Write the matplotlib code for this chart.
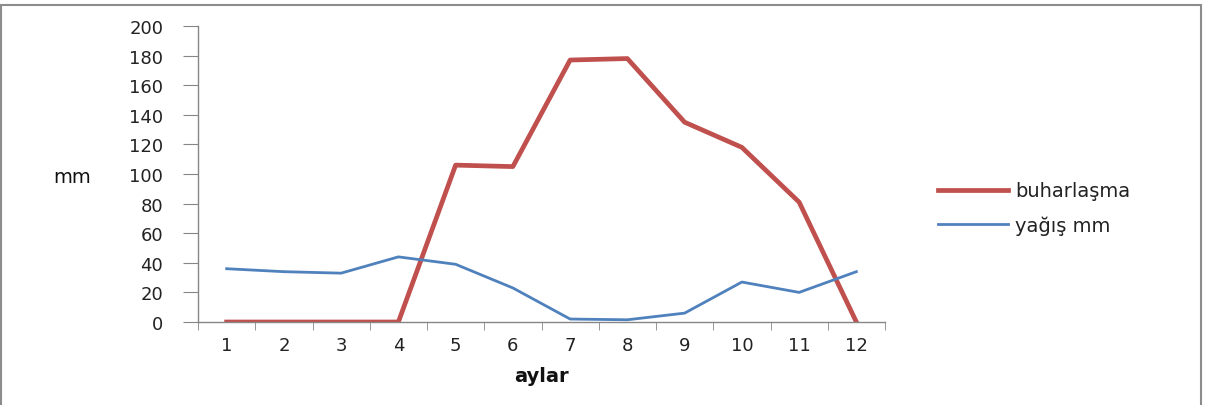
import matplotlib
matplotlib.use("Agg")
import matplotlib.pyplot as plt
from matplotlib.patches import Rectangle
import numpy as np

months = [1, 2, 3, 4, 5, 6, 7, 8, 9, 10, 11, 12]
buharlasma = [0, 0, 0, 0, 106, 105, 177, 178, 135, 118, 81, 0]
yagis = [36, 34, 33, 44, 39, 23, 2, 1.5, 6, 27, 20, 34]
yticks = [0, 20, 40, 60, 80, 100, 120, 140, 160, 180, 200]

RED = "#C0504D"
BLUE = "#4F81BD"
GRAY = "#868686"
FS = 13

fig = plt.figure(figsize=(12.12, 4.06), dpi=100)
fig.patch.set_facecolor("white")
fig.patches.append(Rectangle((1/1212, -0.01), 1200/1212, 1 - 6/406 + 0.01,
                             transform=fig.transFigure, fill=False,
                             edgecolor="#8c8c8c", linewidth=1.5))

ax = fig.add_axes([198/1212, 1 - 323/406, (885-198)/1212, (323-27)/406])
ax.plot(months, buharlasma, color=RED, lw=3.4, label="buharlaşma", solid_joinstyle="round")
ax.plot(months, yagis, color=BLUE, lw=2.0, label="yağış mm", solid_joinstyle="round")

ax.set_xlim(0.5, 12.5)
ax.set_ylim(0, 200)
ax.set_yticks(yticks)
ax.set_xticks(months)
ax.set_xticks(np.arange(0.5, 13, 1), minor=True)
ax.tick_params(axis="x", which="major", length=0, pad=10, labelsize=FS, labelcolor="#222222")
ax.tick_params(axis="x", which="minor", length=6, color=GRAY, direction="out")
ax.tick_params(axis="y", length=11, color=GRAY, direction="out", pad=14, labelsize=FS, labelcolor="#222222")
for s in ["top", "right"]:
    ax.spines[s].set_visible(False)
for s in ["left", "bottom"]:
    ax.spines[s].set_color(GRAY)
    ax.spines[s].set_linewidth(1.0)

fig.text(72/1212, 1 - 178/406, "mm", ha="center", va="center", fontsize=FS + 1, color="#111111")
fig.text(541/1212, 1 - 377/406, "aylar", ha="center", va="center", fontsize=FS + 1, fontweight="bold", color="#111111")

leg = fig.legend(loc="center left", bbox_to_anchor=(920/1212, 1 - 209/406), frameon=False,
                 fontsize=FS + 1, handlelength=3.6, handletextpad=0.4, labelspacing=0.75)
for t in leg.get_texts():
    t.set_color("#222222")

fig.savefig("out.png", dpi=100, facecolor="white")
